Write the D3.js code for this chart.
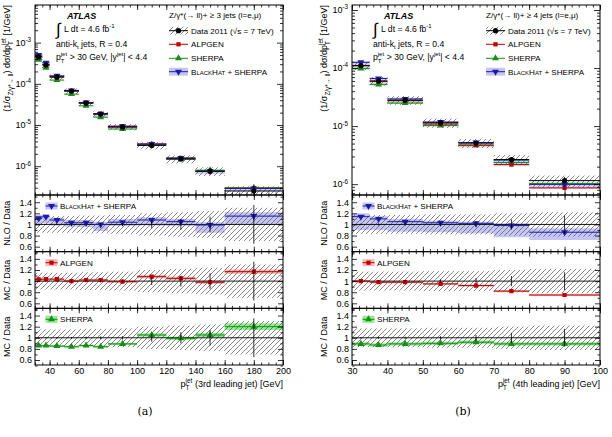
<!DOCTYPE html>
<html>
<head>
<meta charset="utf-8">
<script src="https://d3js.org/d3.v7.min.js"></script>
<style>
  body { margin: 0; background: #fff; }
  svg { font-family: "Liberation Sans", Arial, sans-serif; }
</style>
</head>
<body>
<svg width="612" height="437"></svg>
<script>
  // ---- data: (a) 3rd leading jet ----
  var edges3 = [30, 35, 40, 50, 60, 70, 80, 100, 120, 140, 160, 200];
  var data3 = [4.5e-4, 2.85e-4, 1.45e-4, 6.7e-5, 3.4e-5, 1.85e-5, 9.0e-6, 3.2e-6, 1.5e-6, 7.6e-7, 2.5e-7];
  var syst3 = [0.15, 0.15, 0.15, 0.15, 0.16, 0.16, 0.17, 0.2, 0.22, 0.24, 0.3];
  var stat3 = [0.01, 0.01, 0.012, 0.015, 0.02, 0.025, 0.03, 0.07, 0.1, 0.14, 0.35];
  var bh3 = [1.11, 1.14, 1.08, 1.03, 1.03, 1.0, 1.04, 1.08, 1.05, 0.99, 1.15];
  var bhLo3 = [1.0, 1.02, 0.98, 0.96, 0.95, 0.88, 0.97, 0.98, 0.97, 0.85, 1.0];
  var bhHi3 = [1.17, 1.18, 1.12, 1.08, 1.08, 1.05, 1.1, 1.13, 1.1, 1.04, 1.22];
  var alp3 = [1.03, 1.035, 1.035, 1.0, 1.02, 1.02, 0.99, 1.08, 1.05, 0.98, 1.17];
  var alpErr3 = [0.02, 0.02, 0.02, 0.02, 0.02, 0.02, 0.02, 0.03, 0.03, 0.03, 0.04];
  var sh3 = [0.86, 0.86, 0.85, 0.84, 0.86, 0.84, 0.89, 1.05, 0.99, 1.05, 1.2];
  var shErr3 = [0.02, 0.02, 0.02, 0.02, 0.02, 0.02, 0.02, 0.03, 0.03, 0.04, 0.06];

  // ---- data: (b) 4th leading jet ----
  var edges4 = [30, 35, 40, 50, 60, 70, 80, 100];
  var data4 = [1.1e-4, 6.0e-5, 2.8e-5, 1.14e-5, 5.1e-6, 2.65e-6, 1.15e-6];
  var syst4 = [0.17, 0.17, 0.17, 0.18, 0.18, 0.2, 0.22];
  var stat4 = [0.015, 0.02, 0.02, 0.03, 0.05, 0.09, 0.16];
  var bh4 = [1.14, 1.1, 1.05, 1.03, 1.02, 0.98, 0.86];
  var bhLo4 = [0.9, 0.9, 0.87, 0.86, 0.84, 0.77, 0.72];
  var bhHi4 = [1.2, 1.15, 1.1, 1.07, 1.05, 1.02, 0.93];
  var alp4 = [1.0, 0.98, 0.98, 0.95, 0.92, 0.82, 0.75];
  var alpErr4 = [0.02, 0.02, 0.02, 0.02, 0.02, 0.02, 0.02];
  var sh4 = [0.89, 0.87, 0.89, 0.9, 0.92, 0.89, 0.89];
  var shErr4 = [0.03, 0.03, 0.03, 0.03, 0.03, 0.03, 0.03];

  // ---- tick values ----
  var xMaj3 = [40, 60, 80, 100, 120, 140, 160, 180, 200];
  var xMaj4 = [30, 40, 50, 60, 70, 80, 90, 100];
  var logMaj3 = [1e-6, 1e-5, 1e-4, 1e-3];
  var logMaj4 = [1e-6, 1e-5, 1e-4, 1e-3];
  var rMaj = [0.6, 0.8, 1, 1.2, 1.4];
  var rMin = [0.5, 0.7, 0.9, 1.1, 1.3, 1.5];

  var BH_COL = "#1c1ca6", BH_BAND = "#c6c6f4";
  var ALP_COL = "#bf0000", ALP_BAND = "#f6b9b9";
  var SH_COL = "#1a8c1a", SH_BAND = "#8eef8e";

  var TOP = 5, MID = 195, BOT = 365;
  var RH = (BOT - MID) / 3;
  var rDom = [0.51, 1.53];
  var FS_TICK = 9, FS_TITLE = 9, FS_LEG = 8.1, FS_ANN = 8.6;

  var svg = d3.select("svg");
  var defs = svg.append("defs");
  defs.append("pattern").attr("id", "hatch").attr("patternUnits", "userSpaceOnUse")
    .attr("width", 5).attr("height", 5)
    .append("path").attr("d", "M-1,1 L1,-1 M0,5 L5,0 M4,6 L6,4")
    .attr("stroke", "#555").attr("stroke-width", 0.7);

  // text with sub/superscripts; {t, s:"sup", stack:"T"} puts a subscript under the superscript
  function rich(text, parts, fs) {
    var shift = 0, pend = 0;
    parts.forEach(function(p) {
      if (typeof p === "string") p = {t: p};
      var target = p.s === "sup" ? -0.42 * fs : p.s === "sub" ? 0.3 * fs : 0;
      var ts = text.append("tspan").attr("dy", target - shift).text(p.t);
      if (p.s) ts.attr("font-size", 0.7 * fs);
      if (pend || p.dx) ts.attr("dx", pend + (p.dx || 0));
      pend = 0;
      shift = target;
      if (p.stack) {
        var ls = ts.node().getComputedTextLength();
        var sb = text.append("tspan").attr("dy", 0.33 * fs - shift).attr("dx", -ls)
          .attr("font-size", 0.7 * fs).text(p.stack);
        var lb = sb.node().getComputedTextLength();
        pend = Math.max(0, ls - lb) + 0.3;
        shift = 0.33 * fs;
      }
    });
    return text;
  }

  function marker(sel, sym, col, cx, cy) {
    var type = sym === "square" ? d3.symbolSquare : sym === "circle" ? d3.symbolCircle : d3.symbolTriangle;
    var size = sym === "square" ? 18 : 21;
    sel.append("path").attr("d", d3.symbol().type(type).size(size)())
      .attr("transform", "translate(" + cx + "," + cy + ")" + (sym === "down" ? " rotate(180)" : ""))
      .attr("fill", col);
  }

  function styleAxis(a) {
    a.select(".domain").remove();
    a.attr("font-family", null).attr("font-size", FS_TICK);
    a.selectAll("line").attr("stroke", "#000").attr("stroke-width", 0.8);
  }

  function xTicks(g, x, y0, y1, maj, minor, labels) {
    var a;
    a = g.append("g").attr("transform", "translate(0," + y1 + ")")
      .call(d3.axisBottom(x).tickValues(maj).tickSize(-5).tickPadding(3).tickFormat(labels ? d3.format("d") : ""));
    styleAxis(a);
    a = g.append("g").attr("transform", "translate(0," + y1 + ")")
      .call(d3.axisBottom(x).tickValues(minor).tickSize(-2.5).tickFormat(""));
    styleAxis(a);
    a = g.append("g").attr("transform", "translate(0," + y0 + ")")
      .call(d3.axisTop(x).tickValues(maj).tickSize(-5).tickFormat(""));
    styleAxis(a);
    a = g.append("g").attr("transform", "translate(0," + y0 + ")")
      .call(d3.axisTop(x).tickValues(minor).tickSize(-2.5).tickFormat(""));
    styleAxis(a);
  }

  function yTicks(g, y, x0, x1, maj, minor, fmt, len) {
    var a;
    a = g.append("g").attr("transform", "translate(" + x0 + ",0)")
      .call(d3.axisLeft(y).tickValues(maj).tickSize(-len).tickPadding(3).tickFormat(fmt || ""));
    styleAxis(a);
    a = g.append("g").attr("transform", "translate(" + x0 + ",0)")
      .call(d3.axisLeft(y).tickValues(minor).tickSize(-len / 2).tickFormat(""));
    styleAxis(a);
    a = g.append("g").attr("transform", "translate(" + x1 + ",0)")
      .call(d3.axisRight(y).tickValues(maj).tickSize(-len).tickFormat(""));
    styleAxis(a);
    a = g.append("g").attr("transform", "translate(" + x1 + ",0)")
      .call(d3.axisRight(y).tickValues(minor).tickSize(-len / 2).tickFormat(""));
    styleAxis(a);
  }

  function drawFig(c) {
    var x = d3.scaleLinear().domain(c.xdom).range([c.x0, c.x1]);
    var y = d3.scaleLog().domain(c.ydom).range([MID, TOP]);
    var g = svg.append("g");
    var W = c.x1 - c.x0;

    var bins = c.data.map(function(v, i) {
      return {i: i, lo: c.edges[i], hi: c.edges[i + 1], mid: (c.edges[i] + c.edges[i + 1]) / 2, v: v};
    });
    var models = [
      {r: c.bh, lo: c.bhLo, hi: c.bhHi, col: BH_COL, band: BH_BAND, sym: "down", name: "BlackHat + SHERPA", sc: true, title: "NLO / Data"},
      {r: c.alp, lo: c.alp.map(function(r, i) { return r - c.alpErr[i]; }), hi: c.alp.map(function(r, i) { return r + c.alpErr[i]; }),
        col: ALP_COL, band: ALP_BAND, sym: "square", name: "ALPGEN", title: "MC / Data"},
      {r: c.sh, lo: c.sh.map(function(r, i) { return r - c.shErr[i]; }), hi: c.sh.map(function(r, i) { return r + c.shErr[i]; }),
        col: SH_COL, band: SH_BAND, sym: "up", name: "SHERPA", title: "MC / Data"}
    ];

    // ---------- top panel ----------
    defs.append("clipPath").attr("id", "ct" + c.id).append("rect")
      .attr("x", c.x0).attr("y", TOP).attr("width", W).attr("height", MID - TOP);
    var gt = g.append("g").attr("clip-path", "url(#ct" + c.id + ")");
    models.forEach(function(m) {
      gt.selectAll(null).data(bins).enter().append("rect")
        .attr("x", function(b) { return x(b.lo); })
        .attr("width", function(b) { return x(b.hi) - x(b.lo); })
        .attr("y", function(b) { return y(b.v * m.hi[b.i]); })
        .attr("height", function(b) { return y(b.v * m.lo[b.i]) - y(b.v * m.hi[b.i]); })
        .attr("fill", m.band).attr("opacity", 0.8);
    });
    gt.selectAll(null).data(bins).enter().append("rect")
      .attr("x", function(b) { return x(b.lo); })
      .attr("width", function(b) { return x(b.hi) - x(b.lo); })
      .attr("y", function(b) { return y(b.v * (1 + c.syst[b.i])); })
      .attr("height", function(b) { return y(b.v * (1 - c.syst[b.i])) - y(b.v * (1 + c.syst[b.i])); })
      .attr("fill", "url(#hatch)");
    models.slice().reverse().forEach(function(m) {
      gt.selectAll(null).data(bins).enter().append("line")
        .attr("x1", function(b) { return x(b.lo); }).attr("x2", function(b) { return x(b.hi); })
        .attr("y1", function(b) { return y(b.v * m.r[b.i]); }).attr("y2", function(b) { return y(b.v * m.r[b.i]); })
        .attr("stroke", m.col).attr("stroke-width", 1);
    });
    gt.selectAll(null).data(bins).enter().append("line")
      .attr("x1", function(b) { return x(b.lo); }).attr("x2", function(b) { return x(b.hi); })
      .attr("y1", function(b) { return y(b.v); }).attr("y2", function(b) { return y(b.v); })
      .attr("stroke", "#000").attr("stroke-width", 1);
    [models[2], models[1], models[0]].forEach(function(m) {
      bins.forEach(function(b) { marker(gt, m.sym, m.col, x(b.mid), y(b.v * m.r[b.i])); });
    });
    bins.forEach(function(b) {
      gt.append("line").attr("x1", x(b.mid)).attr("x2", x(b.mid))
        .attr("y1", y(b.v * (1 + c.stat[b.i]))).attr("y2", y(b.v * (1 - c.stat[b.i])))
        .attr("stroke", "#000").attr("stroke-width", 0.8);
      marker(gt, "circle", "#000", x(b.mid), y(b.v));
    });

    g.append("rect").attr("x", c.x0).attr("y", TOP).attr("width", W).attr("height", MID - TOP)
      .attr("fill", "none").attr("stroke", "#000").attr("stroke-width", 1);
    var xMinor = d3.range(c.xdom[0], c.xdom[1] + 0.001, c.minorStep);
    xTicks(g, x, TOP, MID, c.xMaj, xMinor, false);
    var logMinor = [];
    for (var e = -7; e <= -2; e++) for (var k = 2; k <= 9; k++) {
      var v = k * Math.pow(10, e);
      if (v > c.ydom[0] && v < c.ydom[1]) logMinor.push(v);
    }
    yTicks(g, y, c.x0, c.x1, c.logMaj.filter(function(v) { return v >= c.ydom[0] && v <= c.ydom[1]; }), logMinor, null, 6);
    c.logMaj.forEach(function(v) {
      if (v < c.ydom[0] || v > c.ydom[1]) return;
      var t = g.append("text").attr("x", c.x0 - 4).attr("y", y(v) + 3.2).attr("text-anchor", "end").attr("font-size", FS_TICK);
      rich(t, ["10", {t: "-" + Math.round(-Math.log10(v)), s: "sup"}], FS_TICK);
    });

    // y title (top)
    var yt = g.append("text").attr("transform", "translate(" + (c.x0 - 25) + "," + TOP + ") rotate(-90)")
      .attr("text-anchor", "end").attr("font-size", 9);
    rich(yt, ["(1/σ", {t: "Z/γ*→ ll", s: "sub"}, ") dσ/dp", {t: "jet", s: "sup", stack: "T"}, " [1/GeV]"], 9);

    // annotations
    g.append("text").attr("x", c.x0 + 32).attr("y", 19).attr("font-size", 9)
      .attr("font-weight", "bold").attr("font-style", "italic").text("ATLAS");
    g.append("text").attr("x", c.x0 + 21).attr("y", 34.5).attr("font-size", 17).text("∫");
    rich(g.append("text").attr("x", c.x0 + 29).attr("y", 32).attr("font-size", FS_ANN),
      ["L dt = 4.6 fb", {t: "-1", s: "sup"}], FS_ANN);
    rich(g.append("text").attr("x", c.x0 + 21).attr("y", 46.5).attr("font-size", FS_ANN),
      ["anti-k", {t: "t", s: "sub"}, " jets, R = 0.4"], FS_ANN);
    rich(g.append("text").attr("x", c.x0 + 21).attr("y", 60).attr("font-size", FS_ANN),
      ["p", {t: "jet", s: "sup", stack: "T"}, " > 30 GeV, |y", {t: "jet", s: "sup"}, "| < 4.4"], FS_ANN);

    // legend (top)
    var lx = c.x0 + 134, tx = c.x0 + 156;
    g.append("text").attr("x", lx).attr("y", 18).attr("font-size", FS_LEG).text(c.header);
    var ly = [30.7, 44.3, 58.3, 71.7];
    g.append("rect").attr("x", lx).attr("y", ly[0] - 4).attr("width", 19).attr("height", 8).attr("fill", "url(#hatch)");
    g.append("line").attr("x1", lx).attr("x2", lx + 19).attr("y1", ly[0]).attr("y2", ly[0]).attr("stroke", "#000");
    marker(g, "circle", "#000", lx + 9.5, ly[0]);
    g.append("text").attr("x", tx).attr("y", ly[0] + 2.9).attr("font-size", FS_LEG).text("Data 2011 (√s = 7 TeV)");
    [models[1], models[2], models[0]].forEach(function(m, j) {
      var yy = ly[j + 1];
      if (m.sc) g.append("rect").attr("x", lx).attr("y", yy - 4).attr("width", 19).attr("height", 8).attr("fill", m.band);
      g.append("line").attr("x1", lx).attr("x2", lx + 19).attr("y1", yy).attr("y2", yy).attr("stroke", m.col);
      marker(g, m.sym, m.col, lx + 9.5, yy);
      var t = g.append("text").attr("x", tx).attr("y", yy + 2.9).attr("font-size", FS_LEG).text(m.name);
      if (m.sc) t.attr("font-variant", "small-caps");
    });

    // ---------- ratio panels ----------
    var legY = [206, 262.7, 319.3];
    models.forEach(function(m, k) {
      var pTop = MID + k * RH, pBot = pTop + RH;
      var yr = d3.scaleLinear().domain(rDom).range([pBot, pTop]);
      defs.append("clipPath").attr("id", "cr" + c.id + k).append("rect")
        .attr("x", c.x0).attr("y", pTop).attr("width", W).attr("height", RH);
      var gr = g.append("g").attr("clip-path", "url(#cr" + c.id + k + ")");
      gr.selectAll(null).data(bins).enter().append("rect")
        .attr("x", function(b) { return x(b.lo); })
        .attr("width", function(b) { return x(b.hi) - x(b.lo); })
        .attr("y", function(b) { return yr(m.hi[b.i]); })
        .attr("height", function(b) { return yr(m.lo[b.i]) - yr(m.hi[b.i]); })
        .attr("fill", m.band);
      gr.selectAll(null).data(bins).enter().append("rect")
        .attr("x", function(b) { return x(b.lo); })
        .attr("width", function(b) { return x(b.hi) - x(b.lo); })
        .attr("y", function(b) { return yr(1 + c.syst[b.i]); })
        .attr("height", function(b) { return yr(1 - c.syst[b.i]) - yr(1 + c.syst[b.i]); })
        .attr("fill", "url(#hatch)");
      gr.append("line").attr("x1", c.x0).attr("x2", c.x1).attr("y1", yr(1)).attr("y2", yr(1))
        .attr("stroke", "#000").attr("stroke-width", 0.9);
      gr.selectAll(null).data(bins).enter().append("line")
        .attr("x1", function(b) { return x(b.lo); }).attr("x2", function(b) { return x(b.hi); })
        .attr("y1", function(b) { return yr(m.r[b.i]); }).attr("y2", function(b) { return yr(m.r[b.i]); })
        .attr("stroke", m.col).attr("stroke-width", 1);
      bins.forEach(function(b) { marker(gr, m.sym, m.col, x(b.mid), yr(m.r[b.i])); });
      bins.forEach(function(b) {
        gr.append("line").attr("x1", x(b.mid)).attr("x2", x(b.mid))
          .attr("y1", yr(1 + c.stat[b.i])).attr("y2", yr(1 - c.stat[b.i]))
          .attr("stroke", "#000").attr("stroke-width", 0.8);
      });
      // legend
      var bx = c.x0 + 10.5, by = legY[k];
      g.append("rect").attr("x", bx).attr("y", by - 3.5).attr("width", 12).attr("height", 7).attr("fill", m.band);
      g.append("line").attr("x1", bx).attr("x2", bx + 12).attr("y1", by).attr("y2", by).attr("stroke", m.col);
      marker(g, m.sym, m.col, bx + 6, by);
      var lt = g.append("text").attr("x", bx + 14.5).attr("y", by + 2.9).attr("font-size", FS_LEG).text(m.name);
      if (m.sc) lt.attr("font-variant", "small-caps");

      g.append("rect").attr("x", c.x0).attr("y", pTop).attr("width", W).attr("height", RH)
        .attr("fill", "none").attr("stroke", "#000").attr("stroke-width", 1);
      xTicks(g, x, pTop, pBot, c.xMaj, xMinor, k === 2);
      yTicks(g, yr, c.x0, c.x1, rMaj, rMin, function(d) { return d3.format("")(d); }, 5);
      g.append("text").attr("transform", "translate(" + (c.x0 - 25) + "," + (pTop + RH / 2) + ") rotate(-90)")
        .attr("text-anchor", "middle").attr("font-size", FS_TITLE).text(m.title);
    });

    // x title
    rich(g.append("text").attr("x", c.x1).attr("y", 387).attr("text-anchor", "end").attr("font-size", FS_TITLE),
      ["p", {t: "jet", s: "sup", stack: "T"}, " " + c.xtitle + " [GeV]"], FS_TITLE);
    g.append("text").attr("x", c.capX).attr("y", 415).attr("text-anchor", "middle")
      .attr("font-family", "'DejaVu Serif', 'Liberation Serif', serif").attr("font-size", 11).text(c.cap);
  }

  drawFig({
    id: "a", x0: 35, x1: 283, xdom: [30, 200], ydom: [2e-7, 8.2e-3], edges: edges3, data: data3,
    syst: syst3, stat: stat3, bh: bh3, bhLo: bhLo3, bhHi: bhHi3, alp: alp3, alpErr: alpErr3, sh: sh3, shErr: shErr3,
    xMaj: xMaj3, minorStep: 5, logMaj: logMaj3, header: "Z/γ*(→ ll)+ ≥ 3 jets (l=e,μ)",
    xtitle: "(3rd leading jet)", cap: "(a)", capX: 145
  });
  drawFig({
    id: "b", x0: 352, x1: 600, xdom: [30, 100], ydom: [6.5e-7, 1.22e-3], edges: edges4, data: data4,
    syst: syst4, stat: stat4, bh: bh4, bhLo: bhLo4, bhHi: bhHi4, alp: alp4, alpErr: alpErr4, sh: sh4, shErr: shErr4,
    xMaj: xMaj4, minorStep: 2, logMaj: logMaj4, header: "Z/γ*(→ ll)+ ≥ 4 jets (l=e,μ)",
    xtitle: "(4th leading jet)", cap: "(b)", capX: 463
  });
</script>
</body>
</html>
